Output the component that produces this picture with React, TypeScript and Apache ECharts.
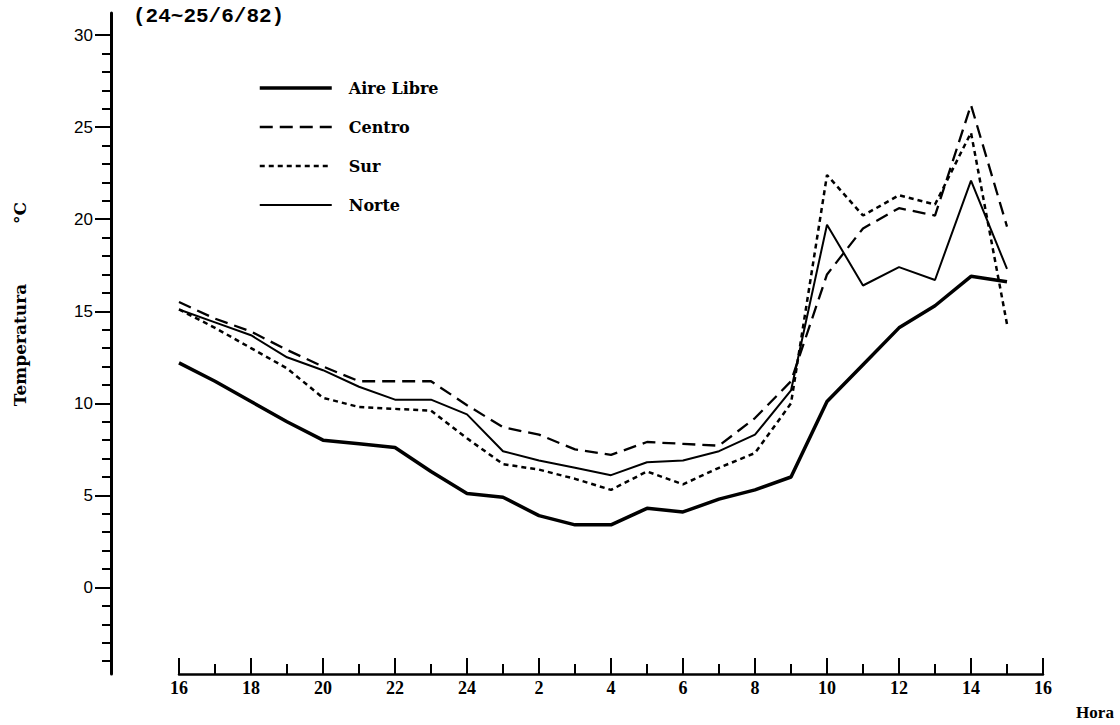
import React, { useEffect, useRef } from "react";
import * as echarts from "echarts";

// Axis positions: hour of day, from 16h (24/6) to 16h (25/6)
const HOUR_TICKS = ["16","17","18","19","20","21","22","23","24","1","2","3","4","5","6","7","8","9","10","11","12","13","14","15","16"];
const MAJOR_X = [0, 2, 4, 6, 8, 10, 12, 14, 16, 18, 20, 22, 24];
const MINOR_X = [1, 3, 5, 7, 9, 11, 13, 15, 17, 19, 21, 23];
const MAJOR_Y = [0, 5, 10, 15, 20, 25, 30];
const MINOR_Y = [-4, -3, -2, -1, 1, 2, 3, 4, 6, 7, 8, 9, 11, 12, 13, 14, 16, 17, 18, 19, 21, 22, 23, 24, 26, 27, 28, 29];

// Temperatures (°C), one value per hour starting at 16h
const AIRE_LIBRE = [12.2, 11.2, 10.1, 9.0, 8.0, 7.8, 7.6, 6.3, 5.1, 4.9, 3.9, 3.4, 3.4, 4.3, 4.1, 4.8, 5.3, 6.0, 10.1, 12.1, 14.1, 15.3, 16.9, 16.6];
const CENTRO = [15.5, 14.6, 13.9, 12.9, 12.0, 11.2, 11.2, 11.2, 9.9, 8.7, 8.3, 7.5, 7.2, 7.9, 7.8, 7.7, 9.2, 11.2, 17.0, 19.5, 20.6, 20.2, 26.2, 19.6];
const SUR = [15.1, 14.1, 13.0, 11.9, 10.3, 9.8, 9.7, 9.6, 8.1, 6.7, 6.4, 5.9, 5.3, 6.3, 5.6, 6.5, 7.3, 10.0, 22.4, 20.2, 21.3, 20.8, 24.7, 14.3];
const NORTE = [15.1, 14.4, 13.7, 12.5, 11.8, 10.9, 10.2, 10.2, 9.4, 7.4, 6.9, 6.5, 6.1, 6.8, 6.9, 7.4, 8.3, 10.7, 19.7, 16.4, 17.4, 16.7, 22.1, 17.3];

const SERIES_NAMES = ["Aire Libre", "Centro", "Sur", "Norte"];

const Y_MIN = -4.7;
const Y_MAX = 31.2;
const GRID_TOP = 13;
const GRID_BOTTOM = 51;

export default function App() {
  const ref = useRef<HTMLDivElement>(null);

  useEffect(() => {
    if (!ref.current) return;
    const chart = echarts.init(ref.current, undefined, { renderer: "svg" });
    const toPairs = (arr: number[]) => arr.map((v, i) => [i, v]);

    const styles: Record<string, { width: number; type: any }> = {
      "Aire Libre": { width: 3.5, type: "solid" },
      Centro: { width: 2.3, type: [13, 7] },
      Sur: { width: 2.5, type: [5, 4] },
      Norte: { width: 2, type: "solid" },
    };

    const lineSeries = (name: string, data: number[]) => ({
      name,
      type: "line",
      xAxisIndex: 1,
      yAxisIndex: 2,
      data: toPairs(data),
      symbol: "none",
      lineStyle: { color: "#000", width: styles[name].width, type: styles[name].type },
      itemStyle: { color: "#000" },
    });

    chart.setOption({
      animation: false,
      backgroundColor: "#fff",
      grid: [
        { left: 111, width: 10, top: GRID_TOP, bottom: GRID_BOTTOM },
        { left: 179, right: 77, top: GRID_TOP, bottom: GRID_BOTTOM },
      ],
      xAxis: [
        { gridIndex: 0, type: "value", show: false, min: 0, max: 1 },
        {
          gridIndex: 1,
          type: "value",
          min: 0,
          max: 24,
          position: "bottom",
          splitLine: { show: false },
          axisLine: { show: true, onZero: false, lineStyle: { color: "#000", width: 2.5 } },
          axisTick: { show: true, inside: true, length: 16, customValues: MAJOR_X, lineStyle: { color: "#000", width: 2 } },
          axisLabel: {
            show: true,
            customValues: MAJOR_X,
            formatter: (v: number) => HOUR_TICKS[Math.round(v)],
            margin: 5,
            fontFamily: "Liberation Serif",
            fontWeight: "bold",
            fontSize: 18,
            color: "#000",
          },
        },
        {
          gridIndex: 1,
          type: "value",
          min: 0,
          max: 24,
          position: "bottom",
          splitLine: { show: false },
          axisLine: { show: false, onZero: false },
          axisTick: { show: true, inside: true, length: 10, customValues: MINOR_X, lineStyle: { color: "#000", width: 2 } },
          axisLabel: { show: false },
        },
      ],
      yAxis: [
        {
          gridIndex: 0,
          type: "value",
          min: Y_MIN,
          max: Y_MAX,
          position: "left",
          splitLine: { show: false },
          axisLine: { show: true, onZero: false, lineStyle: { color: "#000", width: 3 } },
          axisTick: { show: true, length: 16, customValues: MAJOR_Y, lineStyle: { color: "#000", width: 2 } },
          axisLabel: {
            show: true,
            customValues: MAJOR_Y,
            margin: 18,
            fontFamily: "Liberation Sans",
            fontSize: 17,
            color: "#000",
          },
        },
        {
          gridIndex: 0,
          type: "value",
          min: Y_MIN,
          max: Y_MAX,
          position: "left",
          splitLine: { show: false },
          axisLine: { show: false, onZero: false },
          axisTick: { show: true, length: 9, customValues: MINOR_Y, lineStyle: { color: "#000", width: 2 } },
          axisLabel: { show: false },
        },
        {
          gridIndex: 1,
          type: "value",
          min: Y_MIN,
          max: Y_MAX,
          show: false,
        },
      ],
      legend: {
        orient: "vertical",
        left: 258,
        top: 80,
        padding: 0,
        itemWidth: 72,
        itemHeight: 14,
        itemGap: 23,
        itemStyle: { opacity: 0 },
        data: SERIES_NAMES.map((n) => ({
          name: n,
          lineStyle: { color: "#000", width: styles[n].width, type: styles[n].type },
        })),
        textStyle: {
          fontFamily: "DejaVu Serif",
          fontWeight: "bold",
          fontSize: 16,
          color: "#000",
          padding: [0, 0, 0, 12],
        },
      },
      title: {
        text: "(24~25/6/82)",
        left: 133,
        top: 6,
        padding: 0,
        textStyle: { fontFamily: "Liberation Mono", fontWeight: "bold", fontSize: 21, color: "#000" },
      },
      graphic: [
        {
          type: "text",
          x: 20,
          y: 345,
          rotation: Math.PI / 2,
          style: {
            text: "Temperatura",
            font: "bold 17px 'DejaVu Serif'",
            fill: "#000",
            textAlign: "center",
            textVerticalAlign: "middle",
          },
        },
        {
          type: "text",
          x: 20,
          y: 213,
          rotation: Math.PI / 2,
          style: {
            text: "°C",
            font: "bold 17px 'DejaVu Serif'",
            fill: "#000",
            textAlign: "center",
            textVerticalAlign: "middle",
          },
        },
        {
          type: "text",
          x: 1095,
          y: 712,
          style: {
            text: "Hora",
            font: "bold 17px 'Liberation Serif'",
            fill: "#000",
            textAlign: "center",
            textVerticalAlign: "middle",
          },
        },
      ],
      series: [
        lineSeries("Aire Libre", AIRE_LIBRE),
        lineSeries("Centro", CENTRO),
        lineSeries("Sur", SUR),
        lineSeries("Norte", NORTE),
      ],
    });

    return () => chart.dispose();
  }, []);

  return (
    <div
      ref={ref}
      style={{ position: "fixed", left: 0, top: 0, width: 1120, height: 725, background: "#fff" }}
    />
  );
}
